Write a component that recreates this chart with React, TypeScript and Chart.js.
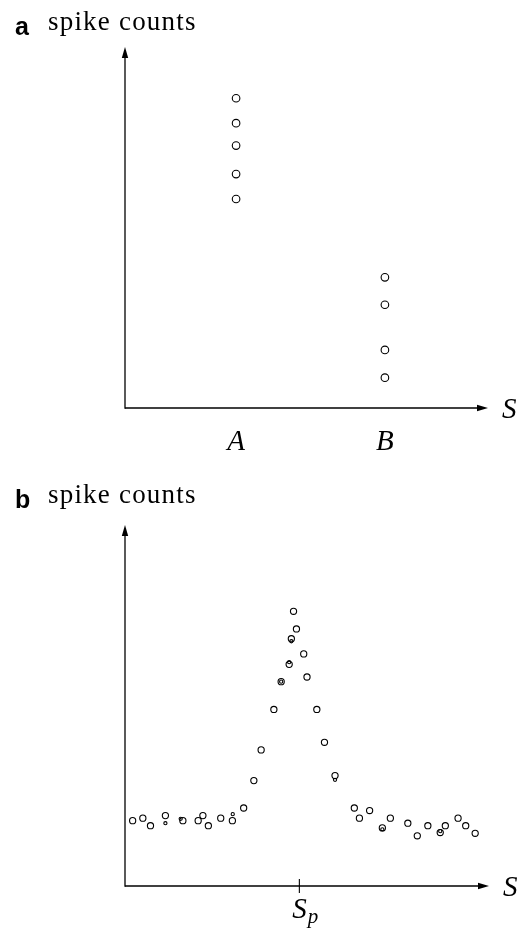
import { useEffect, useRef } from 'react';
import { Chart, registerables } from 'chart.js';

Chart.register(...registerables);

// ---- Panel a: responses to two discrete stimuli ----
const stimulusLabels = ['A', 'B'];
const stimulusPositions = [30.6, 71.6];
const countsA = [85.8, 78.9, 72.7, 64.8, 57.9];
const countsB = [36.2, 28.6, 16.1, 8.4];

// ---- Panel b: tuning along a continuous stimulus dimension ----
const tuningS = [
  2.1, 4.9, 7.0, 11.1, 15.9, 20.1, 21.4, 22.9, 26.3, 29.5, 32.6, 35.4, 37.4,
  40.9, 42.9, 45.1, 45.7, 46.3, 47.1, 49.1, 50.0, 52.7, 54.8, 57.7, 63.0, 64.4,
  67.2, 70.7, 72.9, 77.7, 80.3, 83.2, 86.6, 88.0, 91.5, 93.6, 96.2,
];
const tuningCounts = [
  18.1, 18.8, 16.7, 19.5, 18.1, 18.1, 19.5, 16.7, 18.8, 18.1, 21.6, 29.2, 37.7,
  48.9, 56.6, 61.4, 68.5, 76.1, 71.2, 64.3, 57.9, 48.9, 39.8, 30.6, 21.6, 18.8,
  20.9, 16.1, 18.8, 17.4, 13.9, 16.7, 14.8, 16.7, 18.8, 16.7, 14.6,
];
// repeated trials drawn as small circles
const repeatS = [11.1, 15.3, 29.6, 42.9, 45.1, 45.7, 57.7, 70.7, 86.6];
const repeatCounts = [17.4, 18.6, 19.9, 56.6, 62.0, 67.8, 29.4, 15.7, 15.2];
const preferredS = 47.9;

const W = 519;
const H = 465;

type TickSpec = { value: number; text: string; sub?: string; mark?: boolean };
type AxesOpts = {
  letter: string;
  title: string;
  titleGap: number;
  ticks: TickSpec[];
  tickBaseline: number;
  axisName: string;
};

const serif = '"Liberation Serif", "Times New Roman", serif';

// Arrow-headed axes, panel letter, axis titles and tick labels
const arrowAxes = {
  id: 'arrowAxes',
  afterDraw(chart: any, _args: any, opts: AxesOpts) {
    const { ctx, chartArea: a, scales } = chart;
    const x0 = a.left;
    const y0 = a.bottom;
    ctx.save();
    ctx.strokeStyle = '#000';
    ctx.fillStyle = '#000';
    ctx.lineWidth = 1.3;

    // vertical axis
    ctx.beginPath();
    ctx.moveTo(x0, y0 + 0.65);
    ctx.lineTo(x0, a.top + 6);
    ctx.stroke();
    ctx.beginPath();
    ctx.moveTo(x0, a.top);
    ctx.lineTo(x0 - 3.2, a.top + 11);
    ctx.lineTo(x0 + 3.2, a.top + 11);
    ctx.closePath();
    ctx.fill();

    // horizontal axis
    ctx.beginPath();
    ctx.moveTo(x0, y0);
    ctx.lineTo(a.right - 6, y0);
    ctx.stroke();
    ctx.beginPath();
    ctx.moveTo(a.right, y0);
    ctx.lineTo(a.right - 11, y0 - 3.2);
    ctx.lineTo(a.right - 11, y0 + 3.2);
    ctx.closePath();
    ctx.fill();

    // tick marks and labels
    for (const t of opts.ticks) {
      const px = scales.x.getPixelForValue(t.value);
      if (t.mark) {
        ctx.lineWidth = 1.1;
        ctx.beginPath();
        ctx.moveTo(px, y0 - 7);
        ctx.lineTo(px, y0 + 7);
        ctx.stroke();
      }
      ctx.font = `italic 29px ${serif}`;
      ctx.textBaseline = 'alphabetic';
      if (t.sub) {
        ctx.textAlign = 'left';
        const left = px - 7;
        ctx.fillText(t.text, left, y0 + opts.tickBaseline);
        const w = ctx.measureText(t.text).width;
        ctx.font = `italic 21px ${serif}`;
        ctx.fillText(t.sub, left + w + 1, y0 + opts.tickBaseline + 5);
      } else {
        ctx.textAlign = 'center';
        ctx.fillText(t.text, px, y0 + opts.tickBaseline);
      }
    }

    // horizontal axis name
    ctx.font = `italic 29px ${serif}`;
    ctx.textAlign = 'left';
    ctx.fillText(opts.axisName, a.right + 14, y0 + 10);

    // panel letter and vertical axis title
    const base = a.top - opts.titleGap;
    ctx.font = 'bold 25px "Liberation Sans", Arial, sans-serif';
    ctx.fillText(opts.letter, 15, base + 5);
    ctx.font = `27px ${serif}`;
    (ctx as any).letterSpacing = '1.2px';
    ctx.fillText(opts.title, 48, base);
    ctx.restore();
  },
};

function pointSet(xs: number[], ys: number[]) {
  return xs.map((x, i) => ({ x, y: ys[i] }));
}

function makeConfig(datasets: any[], padding: any, axes: AxesOpts): any {
  return {
    type: 'scatter',
    data: { datasets },
    options: {
      animation: false,
      responsive: false,
      events: [],
      layout: { padding },
      plugins: {
        legend: { display: false },
        tooltip: { enabled: false },
        arrowAxes: axes,
      },
      scales: {
        x: { type: 'linear', min: 0, max: 100, display: false },
        y: { type: 'linear', min: 0, max: 100, display: false },
      },
    },
    plugins: [arrowAxes],
  };
}

const circle = (radius: number, width: number) => ({
  pointStyle: 'circle',
  pointRadius: radius,
  pointBorderWidth: width,
  pointBorderColor: '#000',
  pointBackgroundColor: 'rgba(255,255,255,0)',
  showLine: false,
  clip: false,
});

export default function App() {
  const refA = useRef<HTMLCanvasElement>(null);
  const refB = useRef<HTMLCanvasElement>(null);

  useEffect(() => {
    const pointsA = [
      ...countsA.map((y) => ({ x: stimulusPositions[0], y })),
      ...countsB.map((y) => ({ x: stimulusPositions[1], y })),
    ];
    const chartA = new Chart(
      refA.current!,
      makeConfig(
        [{ label: 'counts', data: pointsA, ...circle(3.8, 1.1) }],
        { left: 125, right: 31, top: 47, bottom: 57 },
        {
          letter: 'a',
          title: 'spike counts',
          titleGap: 17,
          ticks: stimulusLabels.map((text, i) => ({ value: stimulusPositions[i], text })),
          tickBaseline: 42,
          axisName: 'S',
        }
      )
    );

    const chartB = new Chart(
      refB.current!,
      makeConfig(
        [
          { label: 'trials', data: pointSet(tuningS, tuningCounts), ...circle(3.1, 1.1) },
          { label: 'repeats', data: pointSet(repeatS, repeatCounts), ...circle(1.6, 1.1) },
        ],
        { left: 125, right: 30, top: 60, bottom: 44 },
        {
          letter: 'b',
          title: 'spike counts',
          titleGap: 22,
          ticks: [{ value: preferredS, text: 'S', sub: 'p', mark: true }],
          tickBaseline: 32,
          axisName: 'S',
        }
      )
    );

    return () => {
      chartA.destroy();
      chartB.destroy();
    };
  }, []);

  return (
    <div
      style={{
        position: 'fixed',
        left: 0,
        top: 0,
        width: W,
        height: 2 * H,
        background: '#fff',
      }}
    >
      <canvas ref={refA} width={W} height={H} style={{ position: 'absolute', left: 0, top: 0 }} />
      <canvas ref={refB} width={W} height={H} style={{ position: 'absolute', left: 0, top: H }} />
    </div>
  );
}
